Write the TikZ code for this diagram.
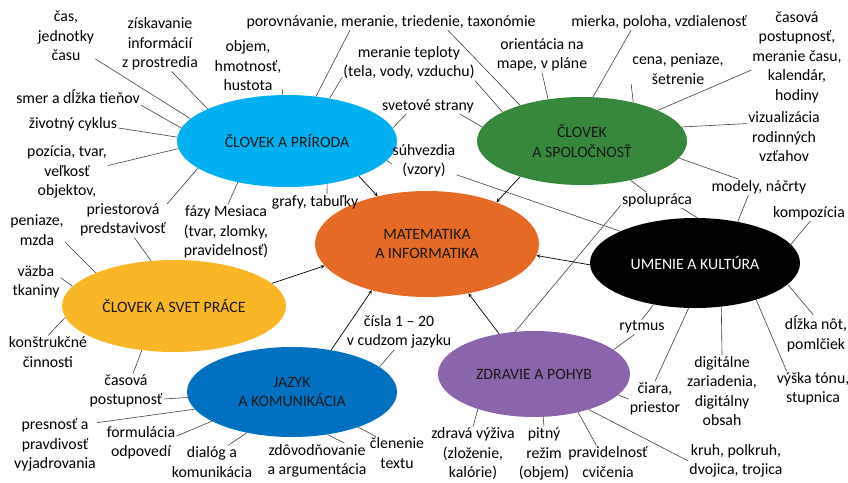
\documentclass[tikz,border=0pt]{standalone}
\usepackage{fontspec}
\setmainfont{Carlito}
\usepackage{tikz}
\usetikzlibrary{shapes.geometric}
\definecolor{pricol}{HTML}{00B0F0}
\definecolor{spocol}{HTML}{37883C}
\definecolor{matcol}{HTML}{E46A25}
\definecolor{pracol}{HTML}{F9B728}
\definecolor{jazcol}{HTML}{0070C0}
\definecolor{zdrcol}{HTML}{8B65AB}
\definecolor{spokecol}{HTML}{404040}
\tikzset{%
  area/.style = {ellipse,inner sep=0pt,align=center,text=black!90,
        font=\fontsize{15.8}{19.5}\selectfont},
  lbl/.style = {inner sep=1pt,align=center,
        font=\fontsize{15.8}{19.5}\selectfont},
  spoke/.style = {draw=spokecol,line width=0.6pt},
  intoarrow/.style = {-stealth,line width=0.7pt}
}

\begin{document}
\begin{tikzpicture}[x=1pt,y=-1pt]
    \useasboundingbox (0,0) rectangle (848,482);
    % oblasti
    \node[area,fill=pricol,minimum width=220pt,minimum height=92pt] (pri) at (287,141) {ČLOVEK A PRÍRODA};
    \node[area,fill=spocol,minimum width=210pt,minimum height=88pt] (spo) at (582,141) {ČLOVEK\\A SPOLOČNOSŤ};
    \node[area,fill=matcol,minimum width=224pt,minimum height=106pt] (mat) at (427,244) {MATEMATIKA\\A INFORMATIKA};
    \node[area,fill=black,text=white,minimum width=210pt,minimum height=90pt] (ume) at (695,263) {UMENIE A KULTÚRA};
    \node[area,fill=pracol,minimum width=224pt,minimum height=92pt] (pra) at (174,306) {ČLOVEK A SVET PRÁCE};
    \node[area,fill=jazcol,minimum width=210pt,minimum height=90pt] (jaz) at (292,392) {JAZYK\\A KOMUNIKÁCIA};
    \node[area,fill=zdrcol,minimum width=192pt,minimum height=86pt] (zdr) at (534,374) {ZDRAVIE A POHYB};

    % pojmy
    \node[lbl] (cas) at (66,36) {čas,\\jednotky\\času};
    \node[lbl] (ziskavanie) at (160,44) {získavanie\\informácií\\z prostredia};
    \node[lbl] (objem) at (248,66) {objem,\\hmotnosť,\\hustota};
    \node[lbl] (porovnavanie) at (391,22) {porovnávanie, meranie, triedenie, taxonómie};
    \node[lbl] (teploty) at (409,63) {meranie teploty\\(tela, vody, vzduchu)};
    \node[lbl] (svetove) at (428,106) {svetové strany};
    \node[lbl] (suhvezdia) at (424,161) {súhvezdia\\(vzory)};
    \node[lbl] (grafy) at (315,202) {grafy, tabuľky};
    \node[lbl] (fazy) at (226,232) {fázy Mesiaca\\(tvar, zlomky,\\pravidelnosť)};
    \node[lbl] (priestorova) at (123,220) {priestorová\\predstavivosť};
    \node[lbl] (pozicia) at (67,172) {pozícia, tvar,\\veľkosť\\objektov,};
    \node[lbl] (zivotny) at (73,124) {životný cyklus};
    \node[lbl] (smer) at (78,97) {smer a dĺžka tieňov};
    \node[lbl] (orientacia) at (542,55) {orientácia na\\mape, v pláne};
    \node[lbl] (mierka) at (659,22) {mierka, poloha, vzdialenosť};
    \node[lbl] (cena) at (678,69) {cena, peniaze,\\šetrenie};
    \node[lbl] (casova) at (797,57) {časová\\postupnosť,\\meranie času,\\kalendár,\\hodiny};
    \node[lbl] (vizualizacia) at (784,137) {vizualizácia\\rodinných\\vzťahov};
    \node[lbl] (modely) at (759,187) {modely, náčrty};
    \node[lbl] (spolupraca) at (657,200) {spolupráca};
    \node[lbl] (kompozicia) at (809,213) {kompozícia};
    \node[lbl] (dlzka) at (816,334) {dĺžka nôt,\\pomlčiek};
    \node[lbl] (vyska) at (813,389) {výška tónu,\\stupnica};
    \node[lbl] (digitalne) at (722,391) {digitálne\\zariadenia,\\digitálny\\obsah};
    \node[lbl] (ciara) at (655,399) {čiara,\\priestor};
    \node[lbl] (rytmus) at (642,327) {rytmus};
    \node[lbl] (zdrava) at (473,454) {zdravá výživa\\(zloženie,\\kalórie)};
    \node[lbl] (pitny) at (544,454) {pitný\\režim\\(objem)};
    \node[lbl] (pravidelnost) at (608,462) {pravidelnosť\\cvičenia};
    \node[lbl] (kruh) at (736,461) {kruh, polkruh,\\dvojica, trojica};
    \node[lbl] (cisla) at (399,332) {čísla 1 – 20\\v cudzom jazyku};
    \node[lbl] (clenenie) at (397,453) {členenie\\textu};
    \node[lbl] (zdovodnovanie) at (317,461) {zdôvodňovanie\\a argumentácia};
    \node[lbl] (dialog) at (212,462) {dialóg a\\komunikácia};
    \node[lbl] (formulacia) at (141,443) {formulácia\\odpovedí};
    \node[lbl] (presnost) at (55,445) {presnosť a\\pravdivosť\\vyjadrovania};
    \node[lbl] (casovapost) at (126,391) {časová\\postupnosť};
    \node[lbl] (peniaze) at (37,230) {peniaze,\\mzda};
    \node[lbl] (vazba) at (36,282) {väzba\\tkaniny};
    \node[lbl] (konstrukcne) at (48,352) {konštrukčné\\činnosti};

    % spojnice
    \draw[spoke] (cas.-38) -- (pri.167);
    \draw[spoke] (ziskavanie.-67) -- (pri.158);
    \draw[spoke] (objem.-34) -- (pri.96);
    \draw[spoke] (porovnavanie.191) -- (pri.57.5);
    \draw[spoke] (porovnavanie.-8) -- (spo.150.6);
    \draw[spoke] (teploty.192) -- (pri.45.7);
    \draw[spoke] (teploty.-15) -- (spo.160.5);
    \draw[spoke] (svetove.200) -- (pri.7.7);
    \draw[spoke] (svetove.-14) -- (spo.172.5);
    \draw[spoke] (suhvezdia.185) -- (pri.-11.2);
    \draw[spoke] (suhvezdia.-23) -- (ume.157.5);
    \draw[spoke] (grafy.34) -- (pri.-47.9);
    \draw[spoke] (fazy.86) -- (pri.220.6);
    \draw[spoke] (priestorova.20) -- (pri.197.9);
    \draw[spoke] (priestorova.-57.5) -- (pra.117.5);
    \draw[spoke] (pozicia.9.5) -- (pri.184.7);
    \draw[spoke] (zivotny.-5) -- (pri.178.4);
    \draw[spoke] (smer.south east) -- (pri.173);
    \draw[spoke] (orientacia.south) -- (spo.129);
    \draw[spoke] (mierka.196.5) -- (spo.76);
    \draw[spoke] (cena.198) -- (spo.37.7);
    \draw[spoke] (casova.196.5) -- (spo.22.9);
    \draw[spoke] (vizualizacia.160) -- (spo.8);
    \draw[spoke] (modely.159) -- (spo.-10.8);
    \draw[spoke] (modely.217) -- (ume.44.3);
    \draw[spoke] (spolupraca.144) -- (spo.-39.5);
    \draw[spoke] (spolupraca.-18) -- (ume.87.5);
    \draw[spoke] (spolupraca.188) -- (zdr.114.5);
    \draw[spoke] (kompozicia.-80) -- (ume.11.9);
    \draw[spoke] (dlzka.98) -- (ume.-13);
    \draw[spoke] (vyska.146) -- (ume.-31);
    \draw[spoke] (digitalne.north) -- (ume.-59);
    \draw[spoke] (ciara.north) -- (ume.-98.5);
    \draw[spoke] (ciara.west) -- (zdr.-14);
    \draw[spoke] (rytmus.north) -- (ume.-135);
    \draw[spoke] (rytmus.225) -- (zdr.17.4);
    \draw[spoke] (zdrava.north) -- (zdr.212);
    \draw[spoke] (pitny.north) -- (zdr.-78);
    \draw[spoke] (pravidelnost.125) -- (zdr.-41.6);
    \draw[spoke] (kruh.west) -- (zdr.-33.7);
    \draw[spoke] (cisla.255) -- (jaz.16.4);
    \draw[spoke] (clenenie.142) -- (jaz.-28);
    \draw[spoke] (zdovodnovanie.33) -- (jaz.-50);
    \draw[spoke] (dialog.46) -- (jaz.222);
    \draw[spoke] (formulacia.11) -- (jaz.200);
    \draw[spoke] (presnost.28) -- (jaz.190.3);
    \draw[spoke] (casovapost.-12) -- (jaz.183.3);
    \draw[spoke] (casovapost.68.5) -- (pra.234.8);
    \draw[spoke] (peniaze.-23.5) -- (pra.157.3);
    \draw[spoke] (vazba.10) -- (pra.169.3);
    \draw[spoke] (konstrukcne.north) -- (pra.186.3);

    % do matematiky
    \draw[intoarrow] (pri.-26.6) -- (mat.136);
    \draw[intoarrow] (spo.210) -- (mat.31.6);
    \draw[intoarrow] (ume.181) -- (mat.-6.6);
    \draw[intoarrow] (pra.13.8) -- (mat.192.7);
    \draw[intoarrow] (jaz.47.9) -- (mat.220);
    \draw[intoarrow] (zdr.131.4) -- (mat.-50);
\end{tikzpicture}
\end{document}
